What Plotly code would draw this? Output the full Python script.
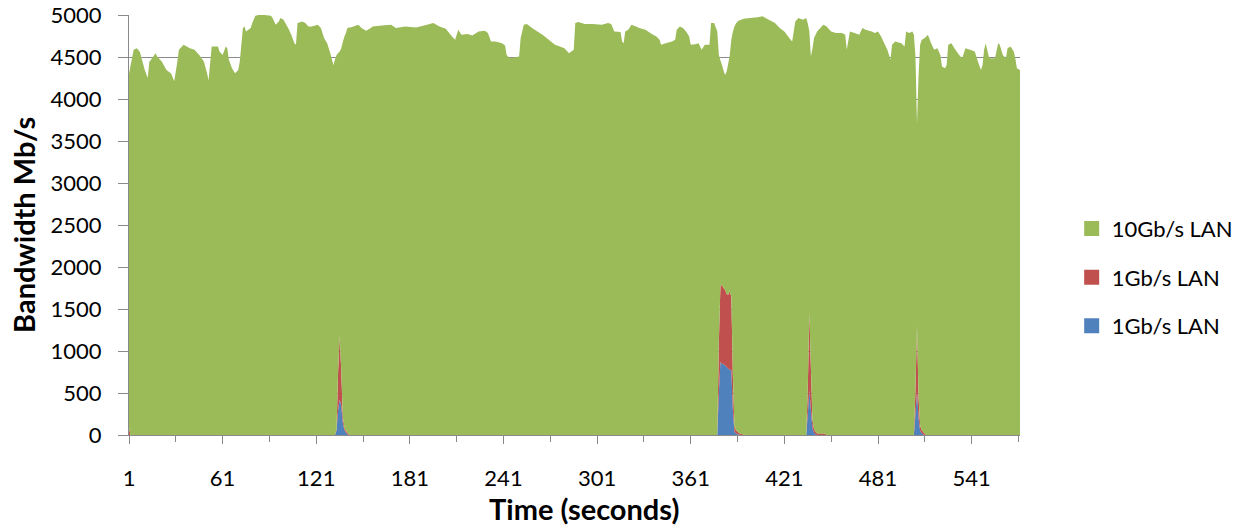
import plotly.graph_objects as go

# ---- data ----
# time knots (seconds) used by the 10Gb/s series
time_s = [1, 2, 4, 6, 8, 9, 11, 13, 14, 16, 18, 19, 22, 25, 28, 30, 32, 33, 36, 40,
          43, 46, 49, 51, 52, 54, 58, 59, 61, 63, 64, 65, 67, 69, 71, 72, 74, 75, 76, 79,
          80, 82, 84, 88, 92, 93, 95, 97, 98, 100, 103, 105, 107, 108, 109, 112, 114, 116, 118, 122,
          124, 126, 128, 130, 132, 133, 134, 135, 136, 137, 138, 139, 140, 141, 142, 143, 148, 150, 153, 156,
          157, 163, 169, 172, 178, 185, 192, 196, 200, 204, 208, 210, 212, 214, 218, 221, 225, 229, 231, 233,
          236, 240, 242, 243, 245, 251, 252, 254, 256, 258, 261, 266, 270, 274, 278, 280, 283, 286, 287, 289,
          293, 298, 304, 308, 310, 312, 316, 317, 318, 319, 321, 323, 326, 328, 332, 336, 339, 341, 342, 345,
          349, 351, 352, 354, 356, 358, 360, 361, 364, 366, 368, 370, 373, 374, 376, 378, 379, 380, 381, 382,
          383, 384, 385, 386, 387, 388, 389, 390, 391, 392, 393, 394, 395, 396, 399, 404, 407, 411, 415, 418,
          421, 425, 426, 428, 430, 433, 435, 436, 437, 438, 439, 440, 441, 442, 443, 444, 445, 446, 447, 448,
          451, 454, 458, 460, 461, 463, 466, 469, 471, 473, 477, 479, 481, 483, 485, 487, 489, 490, 492, 496,
          498, 499, 501, 503, 504, 505, 506, 507, 508, 509, 510, 511, 512, 513, 515, 517, 519, 521, 522, 524,
          525, 526, 528, 530, 533, 535, 537, 540, 543, 545, 547, 548, 549, 550, 552, 553, 556, 558, 559, 561,
          563, 564, 566, 568, 569, 570, 572]

lan10 = [4220, 4400, 4585, 4605, 4560, 4490, 4350, 4250, 4440, 4490, 4545, 4505, 4445, 4345, 4305, 4210, 4446, 4585, 4645, 4605,
         4585, 4525, 4446, 4306, 4226, 4625, 4625, 4565, 4525, 4625, 4605, 4466, 4366, 4306, 4346, 4446, 4844, 4864, 4805, 4844,
         4904, 4990, 5000, 5000, 4990, 4964, 4884, 4924, 4964, 4944, 4844, 4764, 4665, 4645, 4904, 4924, 4904, 4864, 4864, 4884,
         4844, 4725, 4665, 4545, 4406, 4470, 4455, 3795, 3385, 3830, 4450, 4650, 4735, 4819, 4840, 4852, 4884, 4844, 4813, 4844,
         4864, 4876, 4884, 4844, 4864, 4852, 4884, 4904, 4864, 4836, 4745, 4705, 4825, 4764, 4773, 4757, 4805, 4813, 4785, 4685,
         4685, 4665, 4637, 4525, 4486, 4506, 4725, 4884, 4892, 4864, 4825, 4764, 4705, 4645, 4620, 4605, 4545, 4585, 4904, 4916,
         4892, 4892, 4884, 4904, 4892, 4805, 4797, 4685, 4665, 4805, 4825, 4884, 4864, 4844, 4825, 4773, 4745, 4705, 4645, 4665,
         4685, 4705, 4825, 4864, 4844, 4805, 4745, 4645, 4653, 4665, 4585, 4645, 4645, 4904, 4904, 4805, 3425, 2690, 2616, 2590,
         2556, 2646, 2750, 2815, 3055, 4100, 4764, 4840, 4884, 4910, 4925, 4940, 4951, 4958, 4964, 4972, 4984, 4944, 4904, 4844,
         4805, 4705, 4685, 4924, 4964, 4944, 4964, 4350, 3345, 3706, 4420, 4655, 4725, 4785, 4815, 4820, 4855, 4864, 4860, 4864,
         4805, 4785, 4785, 4764, 4585, 4805, 4785, 4764, 4844, 4825, 4805, 4785, 4805, 4745, 4665, 4585, 4466, 4645, 4685, 4665,
         4625, 4805, 4785, 4805, 4764, 3956, 2408, 3836, 4535, 4645, 4680, 4710, 4745, 4764, 4665, 4585, 4605, 4525, 4386, 4366,
         4406, 4645, 4665, 4605, 4525, 4486, 4605, 4585, 4565, 4446, 4346, 4406, 4585, 4665, 4506, 4486, 4486, 4665, 4645, 4525,
         4486, 4605, 4625, 4565, 4486, 4366, 4346]

# first 1Gb/s LAN (blue, bottom of the stack) - only non-trivial around the bursts
blue_t = [1, 2,
          133, 134, 135, 136, 137, 138, 139, 140, 141, 142, 143,
          378, 379, 380, 381, 382, 383, 384, 385, 386, 387, 388, 389, 390, 391, 392, 393, 394, 395, 396,
          435, 436, 437, 438, 439, 440, 441, 442, 443, 444, 445, 446, 447, 448,
          504, 505, 506, 507, 508, 509, 510, 511, 512]
blue_v = [0, 0,
          0, 50, 300, 420, 350, 150, 60, 30, 10, 0, 0,
          0, 500, 870, 850, 840, 830, 810, 790, 780, 770, 300, 40, 20, 10, 5, 0, 0, 0, 0,
          0, 250, 530, 300, 80, 30, 10, 0, 0, 0, 0, 0, 0, 0,
          0, 250, 520, 200, 50, 20, 5, 0, 0]

# second 1Gb/s LAN (red, middle of the stack)
red_t = blue_t
red_v = [80, 0,
         0, 20, 450, 760, 420, 80, 30, 20, 15, 10, 0,
         0, 600, 900, 940, 910, 900, 870, 880, 930, 880, 400, 60, 40, 30, 20, 15, 10, 5, 0,
         0, 300, 930, 500, 100, 40, 30, 20, 10, 25, 10, 20, 15, 0,
         0, 300, 780, 250, 60, 40, 30, 15, 0]

x_ticks = [1, 61, 121, 181, 241, 301, 361, 421, 481, 541]
x_minor = [31, 91, 151, 211, 271, 331, 391, 451, 511, 571]
y_ticks = [0, 500, 1000, 1500, 2000, 2500, 3000, 3500, 4000, 4500, 5000]

names = ["10Gb/s LAN", "1Gb/s LAN", "1Gb/s LAN"]
GREEN, RED, BLUE = "#9BBB59", "#C0504D", "#4F81BD"
FONT = "Lato"
GRID = "#8A8A8A"

fig = go.Figure()
fig.add_trace(go.Scatter(x=blue_t, y=blue_v, stackgroup="s", stackgaps="infer zero",
                         mode="none", fillcolor=BLUE, showlegend=False, name=names[2]))
fig.add_trace(go.Scatter(x=red_t, y=red_v, stackgroup="s",
                         mode="none", fillcolor=RED, showlegend=False, name=names[1]))
fig.add_trace(go.Scatter(x=time_s, y=lan10, stackgroup="s",
                         mode="none", fillcolor=GREEN, showlegend=False, name=names[0]))

# legend entries (square swatches)
for nm, col, grp in [(names[0], GREEN, "g"), (names[1], RED, "r"), (names[2], BLUE, "b")]:
    fig.add_trace(go.Scatter(x=[None], y=[None], mode="markers", name=nm, legendgroup=grp,
                             marker=dict(symbol="square", size=15, color=col)))

fig.update_layout(
    width=1250, height=529,
    margin=dict(l=129, r=227, t=15, b=94),
    paper_bgcolor="white", plot_bgcolor="white",
    font=dict(family=FONT, size=22, color="#000000"),
    legend=dict(x=1.058, xanchor="left", y=0.541, yanchor="top",
                traceorder="grouped", tracegroupgap=17,
                font=dict(family=FONT, size=22, color="#000000"),
                bgcolor="rgba(0,0,0,0)"),
    xaxis=dict(range=[1, 572], tickmode="array", tickvals=x_ticks,
               ticktext=[str(v) for v in x_ticks],
               ticks="outside", ticklen=8, tickcolor=GRID, tickwidth=1,
               minor=dict(tickmode="array", tickvals=x_minor,
                          ticks="outside", ticklen=6, tickcolor=GRID),
               showline=True, linecolor=GRID, linewidth=1,
               showgrid=False, zeroline=False, ticklabelstandoff=16,
               automargin=False,
               tickfont=dict(family=FONT, size=22)),
    yaxis=dict(range=[0, 5000], tickmode="array", tickvals=y_ticks,
               ticks="outside", ticklen=10, tickcolor=GRID, tickwidth=1,
               showline=True, linecolor=GRID, linewidth=1,
               showgrid=True, gridcolor=GRID, gridwidth=1, zeroline=False,
               ticklabelstandoff=12, automargin=False,
               tickfont=dict(family=FONT, size=22)),
    annotations=[
        dict(text="<b>Time (seconds)</b>", xref="paper", yref="paper",
             x=0.511, y=-0.174, xanchor="center", yanchor="middle", showarrow=False,
             font=dict(family=FONT, size=29, color="#000000")),
        dict(text="<b>Bandwidth Mb/s</b>", xref="paper", yref="paper",
             x=-0.1186, y=0.501, xanchor="center", yanchor="middle", showarrow=False,
             textangle=-90, font=dict(family=FONT, size=29, color="#000000")),
    ],
)

fig.write_html("out.html")
